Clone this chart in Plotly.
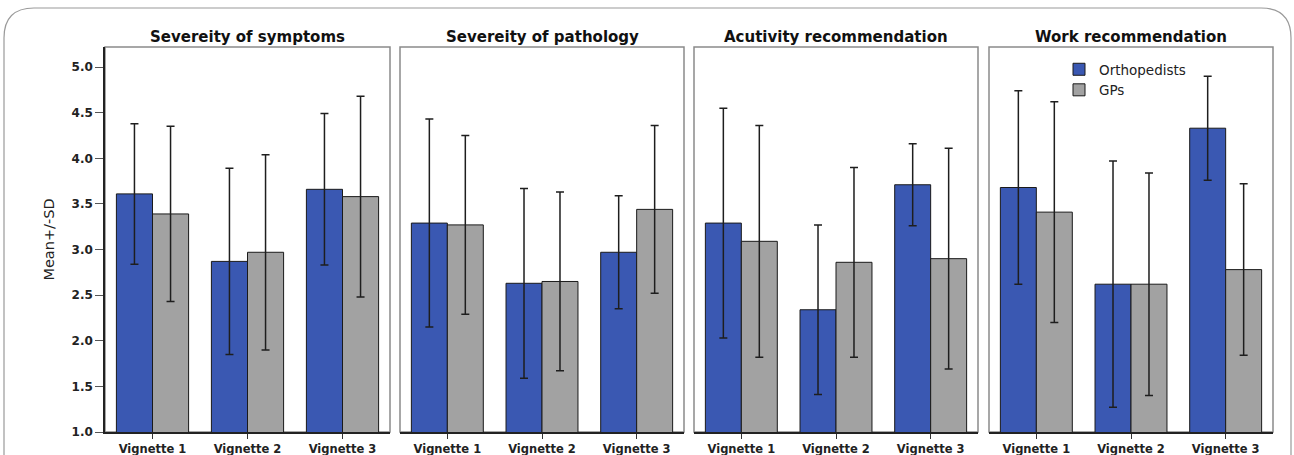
import plotly.graph_objects as go

categories = ["Vignette 1", "Vignette 2", "Vignette 3"]
panel_titles = ["Severeity of symptoms", "Severeity of pathology",
                "Acutivity recommendation", "Work recommendation"]
series_names = ["Orthopedists", "GPs"]

ortho_mean = [[3.61, 2.87, 3.66], [3.29, 2.63, 2.97], [3.29, 2.34, 3.71], [3.68, 2.62, 4.33]]
ortho_sd = [[0.77, 1.02, 0.83], [1.14, 1.04, 0.62], [1.26, 0.93, 0.45], [1.06, 1.35, 0.57]]
gp_mean = [[3.39, 2.97, 3.58], [3.27, 2.65, 3.44], [3.09, 2.86, 2.90], [3.41, 2.62, 2.78]]
gp_sd = [[0.96, 1.07, 1.10], [0.98, 0.98, 0.92], [1.27, 1.04, 1.21], [1.21, 1.22, 0.94]]

y_ticks = [1.0, 1.5, 2.0, 2.5, 3.0, 3.5, 4.0, 4.5, 5.0]

BLUE = "#3a58b2"
GRAY = "#a2a2a2"
FONT = "DejaVu Sans, Liberation Sans, Arial, sans-serif"

W, H = 1294, 455
L, R, T, B = 105, 21, 47, 23
plot_w = W - L - R
plot_h = H - T - B

def px_x(px):
    return (px - L) / plot_w

def px_y(py):
    return (H - B - py) / plot_h

panel_px = [(105, 390), (400, 684), (694, 978), (989, 1273)]
domains = [[px_x(a), px_x(b)] for a, b in panel_px]

fig = go.Figure()

for i in range(4):
    xa = "x" if i == 0 else f"x{i+1}"
    ya = "y" if i == 0 else f"y{i+1}"
    fig.add_trace(go.Bar(
        x=categories, y=ortho_mean[i], name=series_names[0],
        marker=dict(color=BLUE, line=dict(color="#1a1a1a", width=1)),
        error_y=dict(type="data", array=ortho_sd[i], visible=True,
                     color="#1e1e1e", thickness=1.5, width=4),
        xaxis=xa, yaxis=ya, showlegend=(i == 0), legendgroup="o"))
    fig.add_trace(go.Bar(
        x=categories, y=gp_mean[i], name=series_names[1],
        marker=dict(color=GRAY, line=dict(color="#1a1a1a", width=1)),
        error_y=dict(type="data", array=gp_sd[i], visible=True,
                     color="#1e1e1e", thickness=1.5, width=4),
        xaxis=xa, yaxis=ya, showlegend=(i == 0), legendgroup="g"))

layout = dict(
    width=W, height=H,
    margin=dict(l=L, r=R, t=T, b=B, autoexpand=False),
    paper_bgcolor="white", plot_bgcolor="white",
    barmode="group", bargap=0.24, bargroupgap=0,
    font=dict(family=FONT, color="#222"),
    legend=dict(x=px_x(1059), y=px_y(54), xanchor="left", yanchor="top",
                bgcolor="rgba(0,0,0,0)", font=dict(size=13.5, family=FONT, color="#222"),
                tracegroupgap=0, itemwidth=30),
)

shapes = []
annotations = []
for i in range(4):
    key = "" if i == 0 else str(i + 1)
    layout["xaxis" + key] = dict(
        domain=domains[i], anchor="y" + key, automargin=False,
        showline=True, linecolor="#222", linewidth=1.5,
        ticks="outside", ticklen=5, tickcolor="#333", tickwidth=1,
        tickfont=dict(size=11.5, family=FONT, color="#222", weight="bold"),
        showgrid=False, zeroline=False, fixedrange=True)
    ya = dict(
        anchor="x" + key, range=[1.0, 5.22], automargin=False,
        showgrid=False, zeroline=False, fixedrange=True)
    if i == 0:
        ya.update(showline=True, linecolor="#222", linewidth=1.5,
                  ticks="outside", ticklen=8, tickcolor="#555",
                  tickvals=y_ticks, ticktext=[f"{v:.1f}" for v in y_ticks],
                  tickfont=dict(size=12, family=FONT, color="#222", weight="bold"),
                  title=dict(text="Mean+/-SD", standoff=14,
                             font=dict(size=14.5, family=FONT, color="#222")))
    else:
        ya.update(showline=False, showticklabels=False, ticks="")
    layout["yaxis" + key] = ya
    shapes.append(dict(type="rect", xref="paper", yref="paper",
                       x0=domains[i][0], x1=domains[i][1], y0=0, y1=1,
                       line=dict(color="#8a8a8a", width=1.5), layer="below"))
    annotations.append(dict(text=panel_titles[i], xref="paper", yref="paper",
                            x=(domains[i][0] + domains[i][1]) / 2, y=1,
                            xanchor="center", yanchor="bottom", yshift=-1,
                            showarrow=False,
                            font=dict(size=15, family=FONT, color="#111", weight="bold")))

# outer rounded card frame
r = 30
x0, x1, ytop = 4, 1291, 8
path = (f"M {px_x(x0)},{px_y(H + 5)} L {px_x(x0)},{px_y(ytop + r)} "
        f"Q {px_x(x0)},{px_y(ytop)} {px_x(x0 + r)},{px_y(ytop)} "
        f"L {px_x(x1 - r)},{px_y(ytop)} "
        f"Q {px_x(x1)},{px_y(ytop)} {px_x(x1)},{px_y(ytop + r)} "
        f"L {px_x(x1)},{px_y(H + 5)}")
shapes.append(dict(type="path", xref="paper", yref="paper", path=path,
                   line=dict(color="#9a9a9a", width=1.2)))

layout["shapes"] = shapes
layout["annotations"] = annotations
fig.update_layout(**layout)

fig.write_html("out.html", config={"displayModeBar": False},
               post_script="document.body.style.margin='0px';")
